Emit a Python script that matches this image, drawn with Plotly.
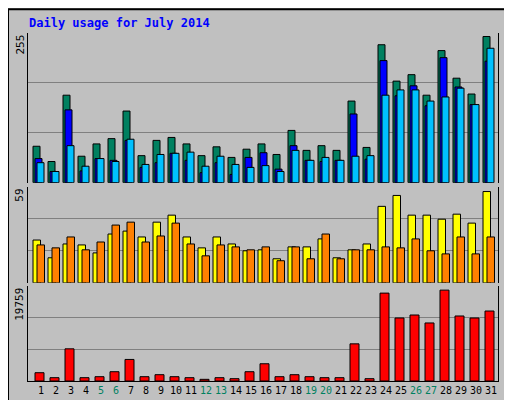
import plotly.graph_objects as go

days = list(range(1, 32))
weekend = [5, 6, 12, 13, 19, 20, 26, 27]
hits = [62,36,149,45,66,75,122,46,72,77,66,46,61,43,57,66,48,89,55,63,55,139,60,235,173,184,149,225,178,151,249]
files = [41,19,124,20,41,38,72,26,34,50,38,17,34,14,43,51,23,63,38,36,38,117,40,208,148,165,131,213,163,133,207]
pages = [34,19,63,28,41,36,74,31,48,50,52,28,45,31,26,29,19,55,38,43,38,45,46,149,158,158,139,146,161,133,229]
visits = [26.3,15.4,23.9,23.3,18.4,30,31.8,28.2,37.3,41.6,28.2,21.5,28.2,23.9,19.7,20.3,14.8,22.1,22.1,27,15.4,20.3,23.9,47,53.7,41.6,41.6,39.1,42.2,36.7,56.1]
sites = [23.3,21.5,28.2,20.3,25.1,35.5,37.3,25.1,28.8,36.7,23.9,16.6,23.3,22.1,20.3,22.1,13.6,22.1,14.8,30,14.8,20.3,20.3,22.1,21.5,27,19.7,17.8,28.2,17.8,28.2]
kbytes = [1721,688,6678,688,895,1928,4475,895,1308,895,688,344,688,482,1928,3580,895,1308,895,688,688,7711,482,18245,13081,13701,12049,18865,13495,13081,14527]
max_hits, max_visits, max_kb = 255, 59, 19759

BG = "#C0C0C0"
line = dict(color="black", width=1)
fig = go.Figure()
def bar(y, color, off, w, axis):
    fig.add_trace(go.Bar(x=days, y=y, marker=dict(color=color, line=line), offset=off, width=w,
                         xaxis="x", yaxis=axis, showlegend=False))
bar(hits, "#008060", -0.333, 0.467, "y3")
bar(files, "#0000FF", -0.2, 0.467, "y3")
bar(pages, "#00C0FF", -0.067, 0.467, "y3")
bar(visits, "#FFFF00", -0.333, 0.5, "y2")
bar(sites, "#FF8000", -0.067, 0.5, "y2")
bar(kbytes, "#FF0000", -0.2, 0.6, "y")

mono = "DejaVu Sans Mono"
ticktext = [f'<span style="color:{"#008060" if d in weekend else "black"}">{d}</span>' for d in days]
ax = dict(showline=True, linecolor="black", mirror=True, gridcolor="#808080", zeroline=False,
          showticklabels=False, ticks="")
fig.update_layout(
    width=512, height=400, paper_bgcolor=BG, plot_bgcolor=BG, barmode="overlay",
    margin=dict(l=20, r=22, t=25, b=24), font=dict(family=mono, size=10, color="black"),
    xaxis=dict(range=[0.333, 31.667], tickvals=[d + 0.2 for d in days], ticktext=ticktext,
               tickangle=0, showgrid=False, showline=True, linecolor="black", mirror=False, ticks="",
               anchor="y", tickfont=dict(size=10)),
    yaxis=dict(domain=[0, 0.2735], range=[0, max_kb], dtick=max_kb / 3, **ax),
    yaxis2=dict(domain=[0.282, 0.558], range=[0, max_visits], dtick=max_visits / 3, **ax),
    yaxis3=dict(domain=[0.570, 1], range=[0, max_hits], dtick=max_hits / 3, **ax),
)
ann = []
ann.append(dict(text="<b>Daily usage for July 2014</b>", x=0, y=1 + 10/351, xref="paper", yref="paper",
                xshift=-1, font=dict(color="#0000FF", size=12, family=mono), showarrow=False,
                xanchor="left", yanchor="middle"))
for t, ypx in [(str(max_hits), 25), (str(max_visits), 180), (str(max_kb), 280)]:
    ann.append(dict(text=t, textangle=-90, x=0, xref="paper", y=1 - (ypx - 25) / 351, yref="paper",
                    xanchor="right", yanchor="top", showarrow=False, font=dict(size=11, family=mono)))
def rlabel(parts, ymid):
    txt = '<span style="color:black">/</span>'.join(f'<span style="color:{c}">{s}</span>' for s, c in parts)
    ann.append(dict(text=txt, textangle=-90, x=1, xref="paper", y=ymid, yref="paper", xshift=3,
                    xanchor="left", yanchor="middle", showarrow=False, font=dict(size=11, family=mono)))
rlabel([("Pages ", "#00C0FF"), (" Files ", "#0000FF"), (" Hits", "#008060")], 0.82)
rlabel([("Sites ", "#FF8000"), (" Visits", "#FFFF00")], 0.42)
rlabel([("KBytes", "#FF0000")], 0.07)
fig.update_layout(annotations=ann)
fig.add_shape(type="rect", xref="paper", yref="paper", x0=-20/470, x1=1 + 20/470, y0=-23/351, y1=1 + 24/351,
              line=dict(color="black", width=2))
fig.write_html("out.html")
